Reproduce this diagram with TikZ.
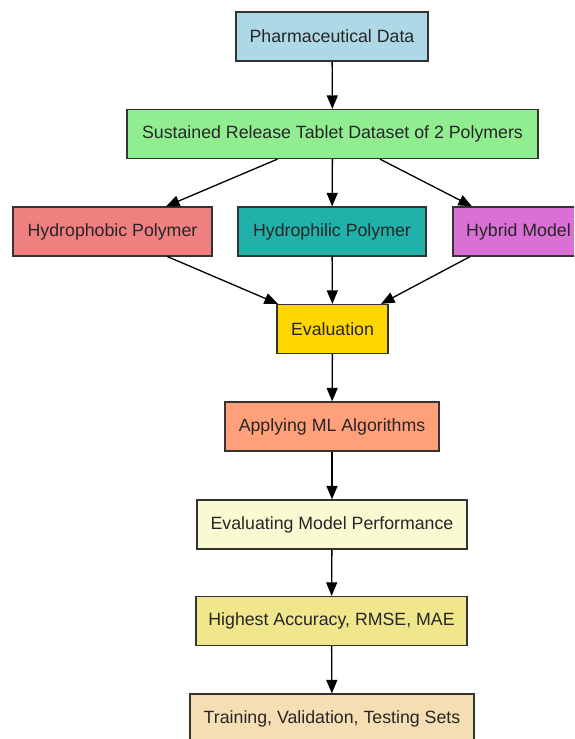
\documentclass[tikz,border=0pt]{standalone}
\usepackage{fontspec}
\setmainfont{Liberation Sans}
\usepackage{tikz}
\usetikzlibrary{arrows.meta}

\begin{document}
\begin{tikzpicture}[
    box/.style={draw=black!80, line width=0.7pt, text=black!85, minimum height=0.98cm,
                inner sep=0pt, font=\fontsize{10.1}{12}\selectfont},
    link/.style={draw=black, line width=0.75pt, -{Triangle[length=0.27cm,width=0.22cm]}}
]
\clip (0,0) rectangle (11.48,-14.78);

\node[box, fill={rgb,255:red,173;green,216;blue,230}, minimum width=3.84cm] (pharma) at (6.64,-0.73) {Pharmaceutical Data};
\node[box, fill={rgb,255:red,144;green,238;blue,144}, minimum width=8.22cm] (dataset) at (6.65,-2.68) {Sustained Release Tablet Dataset of 2 Polymers};
\node[box, fill={rgb,255:red,240;green,128;blue,128}, minimum width=3.98cm] (phobic) at (2.25,-4.63) {Hydrophobic Polymer};
\node[box, fill={rgb,255:red,32;green,178;blue,170}, minimum width=3.76cm] (philic) at (6.64,-4.63) {Hydrophilic Polymer};
\node[box, fill={rgb,255:red,218;green,112;blue,214}, minimum width=2.62cm] (hybrid) at (10.37,-4.63) {Hybrid Model};
\node[box, fill={rgb,255:red,255;green,215;blue,0}, minimum width=2.22cm] (eval) at (6.65,-6.58) {Evaluation};
\node[box, fill={rgb,255:red,255;green,160;blue,122}, minimum width=4.28cm] (mlalg) at (6.64,-8.53) {Applying ML Algorithms};
\node[box, fill={rgb,255:red,250;green,250;blue,210}, minimum width=5.4cm] (perf) at (6.64,-10.49) {Evaluating Model Performance};
\node[box, fill={rgb,255:red,240;green,230;blue,140}, minimum width=5.42cm] (acc) at (6.63,-12.42) {Highest Accuracy, RMSE, MAE};
\node[box, fill={rgb,255:red,245;green,222;blue,179}, minimum width=5.68cm] (sets) at (6.64,-14.37) {Training, Validation, Testing Sets};

\draw[link] (pharma) -- (dataset);
\draw[link] ([xshift=-1.1cm]dataset.south) -- ([xshift=1.07cm]phobic.north);
\draw[link] (dataset) -- (philic);
\draw[link] ([xshift=0.95cm]dataset.south) -- ([xshift=-0.93cm]hybrid.north);
\draw[link] ([xshift=1.1cm]phobic.south) -- ([xshift=-1.09cm]eval.north);
\draw[link] (philic) -- (eval);
\draw[link] ([xshift=-0.97cm]hybrid.south) -- ([xshift=0.97cm]eval.north);
\draw[link] (eval) -- (mlalg);
\draw[link] (mlalg) -- (perf);
\draw[link] (perf) -- (acc);
\draw[link] (acc) -- (sets);
\end{tikzpicture}
\end{document}
